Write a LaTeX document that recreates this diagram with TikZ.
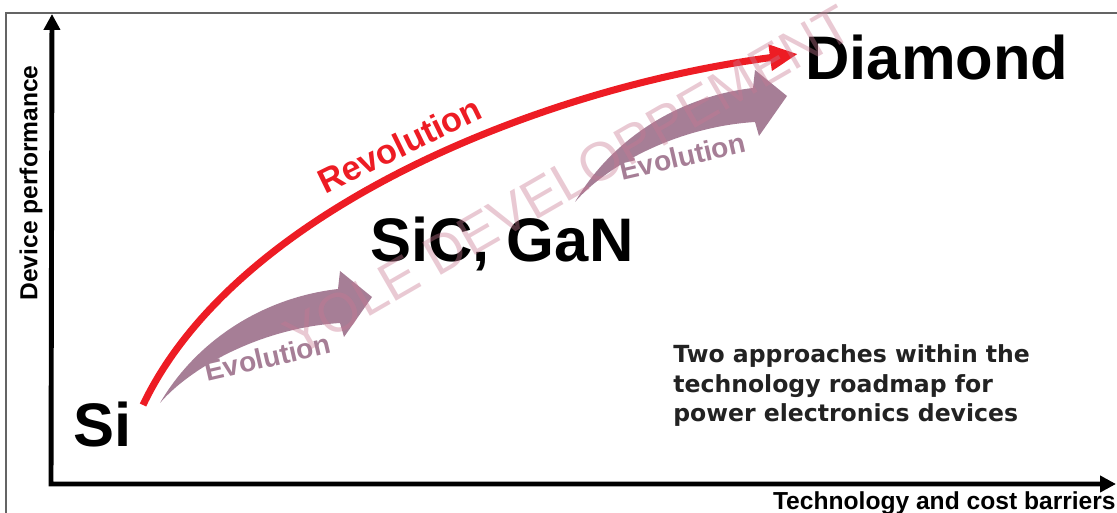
\documentclass[tikz,border=0pt]{standalone}
\usepackage{fontspec}
\setmainfont{Liberation Sans}
\newfontfamily\notefont{DejaVu Sans}
\usetikzlibrary{arrows.meta}
\definecolor{revred}{RGB}{237,28,36}
\definecolor{evomauve}{RGB}{166,126,150}
\definecolor{markpink}{RGB}{200,120,145}
\definecolor{framegray}{RGB}{100,100,100}
\definecolor{notegray}{RGB}{34,34,34}

\begin{document}
\begin{tikzpicture}[x=0.02cm, y=0.02cm]
    \tikzstyle{axis}=[line width=2.8pt, {Triangle[length=9pt,width=9pt]}-{Triangle[length=9pt,width=9pt]}]
    \tikzstyle{revarr}=[line width=4pt, revred, -{Triangle[length=16pt,width=14pt]}]
    \tikzstyle{mat}=[font=\fontsize{35}{39}\selectfont\bfseries, inner sep=0pt, anchor=base west]
    \tikzstyle{axlbl}=[font=\fontsize{14}{16}\selectfont\bfseries, inner sep=0pt]
    \tikzstyle{evolbl}=[font=\fontsize{16}{18}\selectfont\bfseries, text=evomauve, inner sep=0pt, anchor=base, rotate=13]
    \tikzstyle{yolemark}=[font=\fontsize{31}{34}\selectfont, text=markpink, text opacity=0.4, inner sep=0pt, anchor=base west, rotate=30]

    \useasboundingbox (0,0) rectangle (1117,-513);
    \draw[framegray, line width=1.2pt] (6,-513) -- (6,-13) -- (1117,-13);

    \coordinate (ytop) at (52,-14);
    \coordinate (origin) at (51,-484);
    \coordinate (xend) at (1116,-484);
    \draw[axis] (ytop) -- (origin) -- (xend);

    \node[axlbl, rotate=90] (yname) at (31,-183) {Device performance};
    \node[axlbl, anchor=base east] (xname) at (1116,-510) {Technology and cost barriers};

    \foreach \tx/\ty [count=\k] in {160/403, 575/202} {
        \fill[evomauve, shift={(\tx,-\ty)}] (0,0) .. controls (35,60) and (100,105) .. (178,114)
            -- (180,132) -- (212,106) -- (184,66) -- (180,80) .. controls (100,75) and (30,35) .. cycle;
        \node[evolbl] (evo\k) at (\tx+110,-\ty+36) {Evolution};
    }

    \coordinate (revstart) at (143,-405);
    \coordinate (revend) at (798,-54);
    \draw[revarr] (revstart) .. controls (236,-210) and (540,-88) .. (revend);
    \node[font=\fontsize{19.5}{22}\selectfont\bfseries, text=revred, inner sep=0pt, anchor=base, rotate=26] (rev) at (405,-156) {Revolution};

    \node[mat] (si) at (73,-447) {Si};
    \node[mat] (sicgan) at (370,-262) {SiC, GaN};
    \node[mat] (diamond) at (805,-80) {Diamond};

    \node[font=\notefont\bfseries\fontsize{13.4}{17}\selectfont, text=notegray, align=left, inner sep=0pt, anchor=north west] (note) at (673,-344)
        {Two approaches within the\\technology roadmap for\\power electronics devices};

    \node[yolemark] (yole) at (298,-358) {YOLE DEVELOPPEMENT};
\end{tikzpicture}
\end{document}
